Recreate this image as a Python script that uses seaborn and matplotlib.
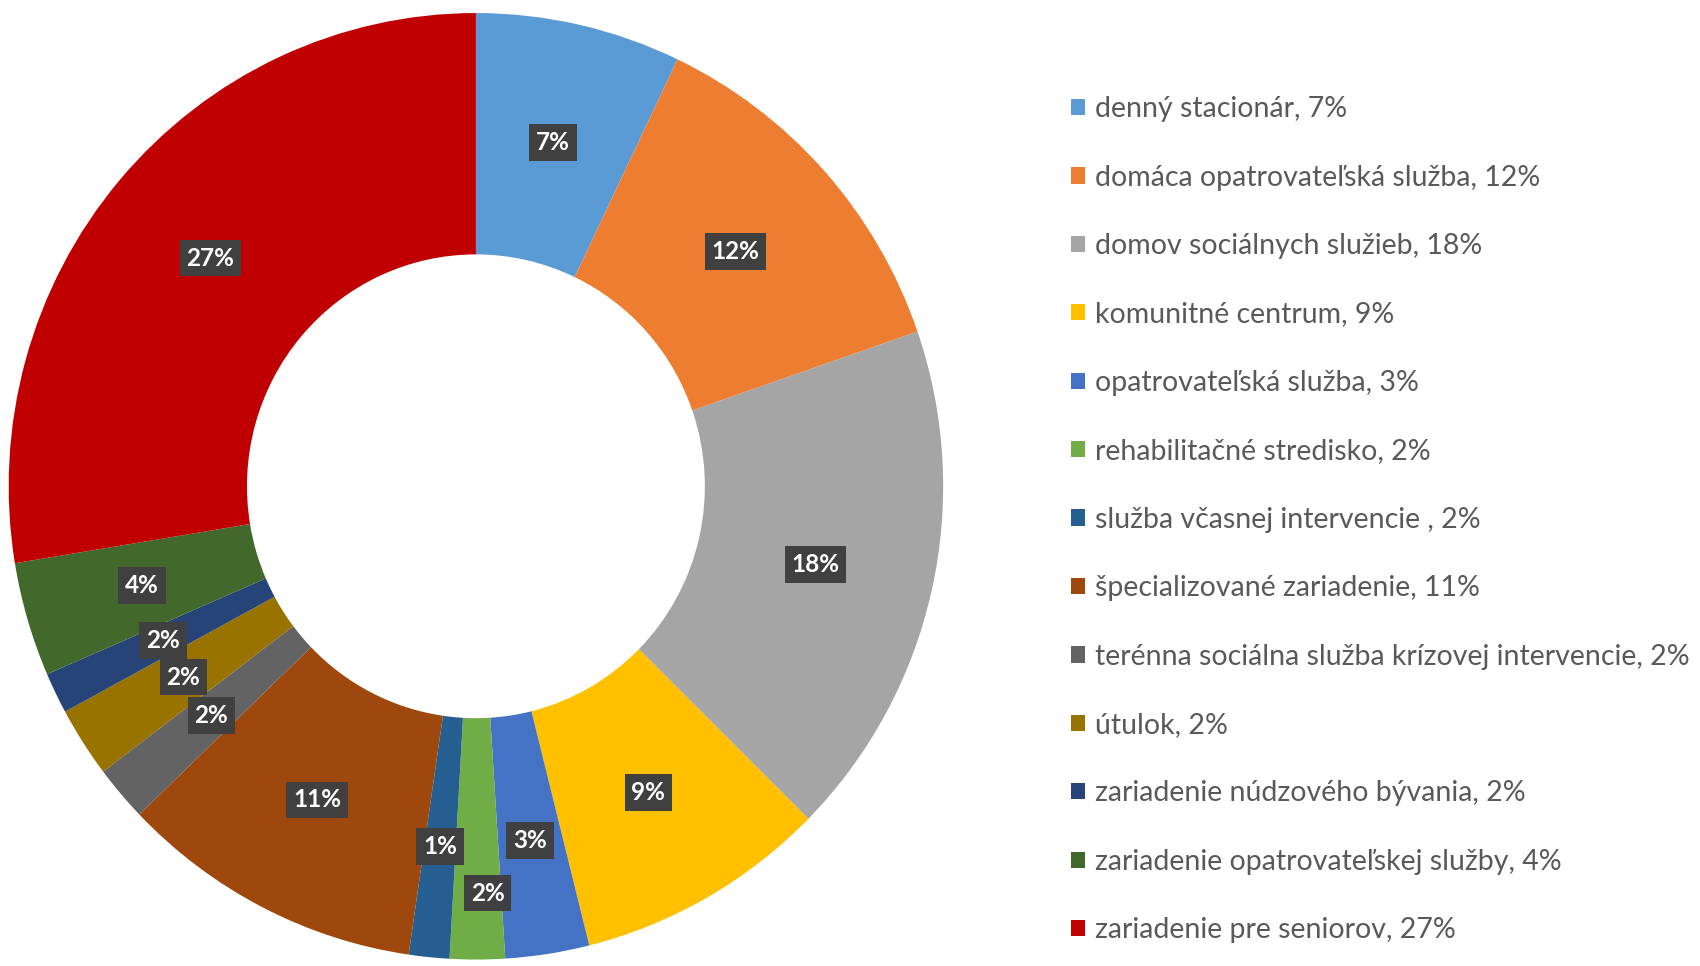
import numpy as np
import seaborn as sns
import matplotlib.pyplot as plt
from matplotlib.patches import Patch

sns.set_theme(style='white')
plt.rcParams['font.family'] = ['Lato', 'DejaVu Sans']

# Data (shares in %, clockwise from 12 o'clock)
categories = ['denný stacionár', 'domáca opatrovateľská služba', 'domov sociálnych služieb',
              'komunitné centrum', 'opatrovateľská služba', 'rehabilitačné stredisko',
              'služba včasnej intervencie ', 'špecializované zariadenie',
              'terénna sociálna služba krízovej intervencie', 'útulok',
              'zariadenie núdzového bývania', 'zariadenie opatrovateľskej služby',
              'zariadenie pre seniorov']
shares = [7.1, 12.6, 17.7, 8.7, 2.9, 1.9, 1.4, 10.5, 1.9, 2.4, 1.4, 3.9, 27.6]
slice_labels = ['7%', '12%', '18%', '9%', '3%', '2%', '1%', '11%', '2%', '2%', '2%', '4%', '27%']
legend_pct = ['7%', '12%', '18%', '9%', '3%', '2%', '2%', '11%', '2%', '2%', '2%', '4%', '27%']

colors = ['#5B9BD5', '#ED7D31', '#A5A5A5', '#FFC000', '#4472C4', '#70AD47', '#255E91',
          '#9E480E', '#636363', '#997300', '#264478', '#43682B', '#C00000']

fig = plt.figure(figsize=(17, 9.66), dpi=100)
ax = fig.add_axes([0.0051, 0.0067, 0.5497, 0.9798])

wedges, _ = ax.pie(shares, colors=colors, startangle=90, counterclock=False,
                   radius=1, wedgeprops=dict(width=0.51, linewidth=0))
ax.set_xlim(-1, 1)
ax.set_ylim(-1, 1)
ax.set_aspect('auto')
ax.axis('off')

# data labels in dark boxes, middle of the ring
label_r = {5: 0.86, 6: 0.765, 4: 0.757}
label_shift = {5: 1.5}
for i, w in enumerate(wedges):
    mid = np.deg2rad((w.theta1 + w.theta2) / 2 + label_shift.get(i, 0))
    r = label_r.get(i, 0.745)
    ax.text(r * np.cos(mid), r * np.sin(mid), slice_labels[i],
            ha='center', va='center', color='white', fontsize=17.5, fontweight='bold',
            bbox=dict(boxstyle='square,pad=0.28', facecolor='#404040', edgecolor='none'))

handles = [Patch(facecolor=c, edgecolor='none') for c in colors]
labels = [f'{c}, {p}' for c, p in zip(categories, legend_pct)]
fig.legend(handles, labels, loc='upper left', bbox_to_anchor=(0.630, 0.9005),
           frameon=False, fontsize=20.5, labelcolor='#595959',
           handlelength=0.5, handleheight=0.5, handletextpad=0.35,
           labelspacing=1.49, borderpad=0, borderaxespad=0)

fig.savefig('out.png', dpi=100)
